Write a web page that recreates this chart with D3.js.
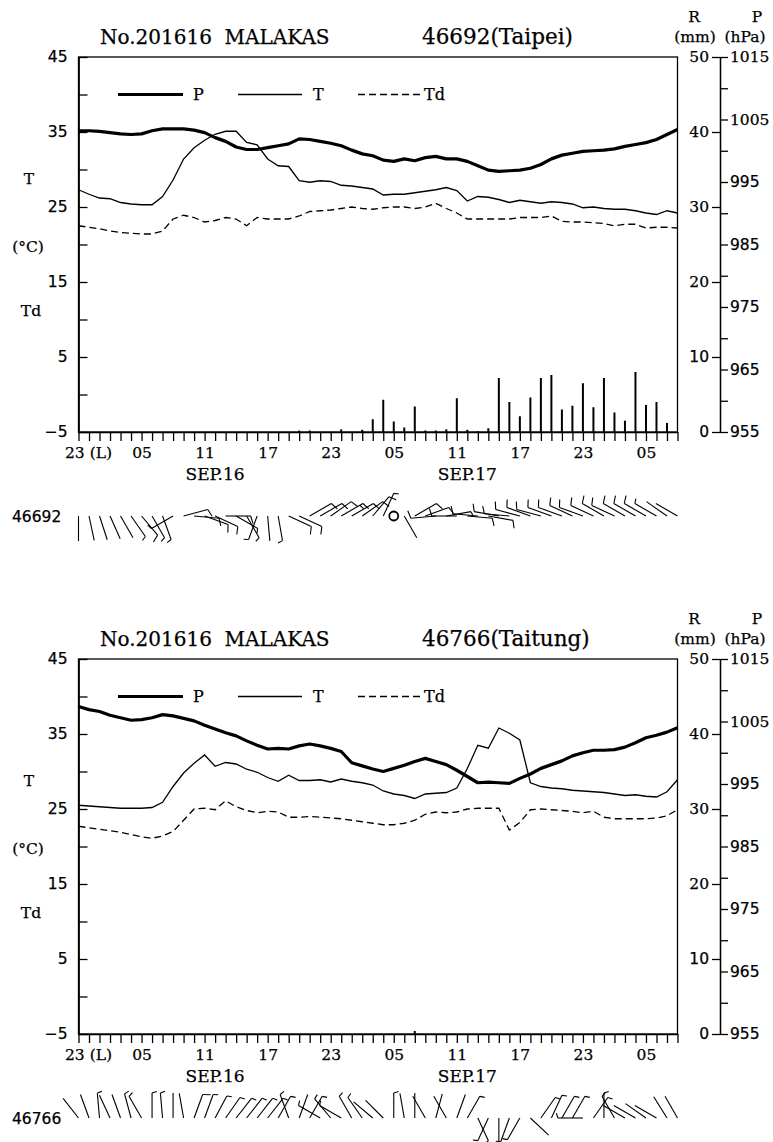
<!DOCTYPE html>
<html>
<head>
<meta charset="utf-8">
<script src="https://cdn.jsdelivr.net/npm/d3@7"></script>
<style>
  body { margin: 0; background: #fff; }
  svg text { fill: #000; stroke: #000; stroke-width: 0.25px; }
</style>
</head>
<body>
<script>
// hourly series, 23 LST Sep 15 -> 08 LST Sep 18 (58 hours)
var hourLabels = ["23","05","11","17","23","05","11","17","23","05"];
var dayLabels = ["SEP.16", "SEP.17"];
var dayNoon = [13, 37];
var tLabels = [45, 35, 25, 15, 5, -5];
var rLabels = [0, 10, 20, 30, 40, 50];
var pLabels = [1015, 1005, 995, 985, 975, 965, 955];

var taipeiP = [1003.2,1003.2,1003.1,1002.9,1002.7,1002.6,1002.7,1003.2,1003.5,1003.5,
  1003.5,1003.3,1002.9,1002.1,1001.5,1000.6,1000.2,1000.2,1000.5,1000.8,
  1001.1,1001.9,1001.8,1001.5,1001.2,1000.8,1000.1,999.5,999.2,998.5,
  998.3,998.7,998.4,998.9,999.1,998.7,998.7,998.3,997.6,996.9,
  996.7,996.8,996.9,997.2,997.8,998.7,999.3,999.6,999.9,1000.0,
  1000.1,1000.3,1000.7,1001.0,1001.3,1001.8,1002.6,1003.4];
var taipeiT = [27.3,26.7,26.2,26.1,25.6,25.4,25.3,25.3,26.4,28.6,
  31.4,32.9,33.9,34.7,35.1,35.1,33.6,33.3,31.4,30.5,
  30.4,28.5,28.3,28.5,28.4,27.9,27.8,27.6,27.4,26.6,
  26.7,26.7,26.9,27.1,27.3,27.6,27.2,25.8,26.4,26.3,
  26.0,25.6,25.9,25.7,25.5,25.7,25.6,25.4,24.9,25.0,
  24.8,24.7,24.7,24.5,24.2,24.0,24.5,24.2];
var taipeiTd = [22.5,22.3,22.1,21.8,21.6,21.5,21.4,21.4,21.8,23.4,
  23.9,23.6,23.0,23.2,23.6,23.4,22.5,23.6,23.4,23.4,
  23.4,23.8,24.4,24.5,24.6,24.8,25.0,24.8,24.7,24.9,
  25.0,25.0,24.8,25.0,25.5,24.8,24.2,23.4,23.4,23.4,
  23.4,23.4,23.6,23.6,23.6,23.8,23.1,23.0,23.0,22.9,
  22.8,22.5,22.7,22.7,22.2,22.3,22.3,22.2];
var taipeiR = [0,0,0,0,0,0,0,0,0,0,
  0,0,0,0,0,0,0,0,0,0,
  0,0.2,0.2,0,0,0.35,0,0.3,1.7,4.3,
  1.4,0.6,3.4,0.2,0.2,0.35,4.5,0.3,0.1,0.5,
  7.2,4.0,2.1,4.6,7.2,7.6,3.0,3.5,6.5,3.3,
  7.2,2.6,1.5,8.0,3.6,4.0,1.2,0];
// wind direction (deg, -1 = calm) and barb count (1 short, 2 full, 3 full+short)
var taipeiWd = [180,168,162,156,150,145,140,150,160,240,
  75,95,110,115,90,120,150,200,175,170,
  115,115,60,60,55,60,60,55,40,25,
  -1,150,60,70,265,80,270,95,275,100,
  280,275,285,290,285,290,290,295,290,295,
  300,295,300,300,300,300,305,300];
var taipeiWs = [0,0,0,0,0,1,2,1,1,1,
  2,2,2,2,2,1,1,1,0,1,
  2,2,2,2,2,3,2,2,2,1,
  0,0,2,2,2,1,2,2,2,2,
  2,2,2,2,2,2,2,2,2,2,
  2,2,2,2,2,1,0,0];

var taitungP = [1007.4,1006.9,1006.6,1006.0,1005.6,1005.2,1005.3,1005.6,1006.1,1005.9,
  1005.5,1005.1,1004.4,1003.8,1003.2,1002.7,1001.9,1001.2,1000.6,1000.7,
  1000.6,1001.1,1001.4,1001.1,1000.7,1000.2,998.4,997.9,997.4,997.0,
  997.5,998.0,998.6,999.1,998.6,998.1,997.2,996.2,995.2,995.3,
  995.2,995.1,995.9,996.6,997.5,998.1,998.7,999.5,1000.0,1000.4,
  1000.4,1000.5,1000.9,1001.6,1002.4,1002.8,1003.3,1004.0];
var taitungT = [25.5,25.4,25.3,25.2,25.1,25.1,25.1,25.2,25.9,28.0,
  29.8,31.1,32.2,30.7,31.2,31.0,30.3,29.9,29.2,28.7,
  29.5,28.8,28.8,28.9,28.6,29.0,28.7,28.5,28.2,27.4,
  27.0,26.8,26.4,27.0,27.1,27.2,27.8,30.4,33.5,33.1,
  35.8,35.1,34.2,28.5,28.0,27.8,27.7,27.5,27.4,27.3,
  27.2,27.0,26.8,26.9,26.7,26.6,27.3,28.9];
var taitungTd = [22.7,22.5,22.3,22.1,21.9,21.6,21.3,21.1,21.4,22.0,
  23.5,25.0,25.1,24.9,26.1,25.3,24.8,24.5,24.7,24.6,
  23.9,23.9,24.0,23.9,23.8,23.7,23.5,23.3,23.1,22.9,
  22.9,23.1,23.5,24.3,24.6,24.5,24.6,25.0,25.1,25.1,
  25.1,22.2,23.2,24.9,25.0,24.9,24.8,24.7,24.5,24.7,
  23.9,23.7,23.7,23.7,23.7,23.8,24.1,24.9];
var taitungR = [0,0,0,0,0,0,0,0,0,0,
  0,0,0,0,0,0,0,0,0,0,
  0,0,0,0,0,0,0,0,0,0,
  0,0,0.4,0,0,0,0,0,0,0,
  0,0,0,0,0,0,0,0,0,0,
  0,0,0,0,0,0,0,0];
var taitungWd = [322,340,355,335,340,345,330,0,355,0,
  350,20,20,28,35,38,38,38,38,30,
  340,20,30,300,320,300,330,325,310,315,
  0,350,0,330,15,330,20,30,155,205,
  180,200,210,133,35,25,30,30,270,35,
  0,330,300,300,305,300,328,330];
var taitungWs = [0,0,1,0,0,1,1,1,1,0,
  0,2,1,1,1,1,1,1,1,1,
  1,0,1,1,1,1,1,1,0,0,
  1,0,0,0,0,0,0,1,1,1,
  0,1,1,0,1,1,1,1,1,1,
  1,1,0,0,0,0,0,0];

var serif = "'DejaVu Serif', serif",
    sans = "'DejaVu Sans', sans-serif";

var svg = d3.select("body").append("svg")
  .attr("width", 773)
  .attr("height", 1142);

var x = d3.scaleLinear().domain([0, 57]).range([78.5, 677.5]),
    yT = d3.scaleLinear().domain([-5, 45]).range([432, 57]),
    yR = d3.scaleLinear().domain([0, 50]).range([432, 57]),
    yP = d3.scaleLinear().domain([955, 1015]).range([432, 57]);

function drawBarb(g, cx, cy, dir, spd) {
  if (dir < 0) {
    g.append("circle").attr("cx", cx).attr("cy", cy).attr("r", 4.5)
      .attr("fill", "none").attr("stroke", "#000").attr("stroke-width", 1.8);
    return;
  }
  var L = 25, a = dir * Math.PI / 180,
      ux = Math.sin(a), uy = -Math.cos(a),
      fa = (dir + 72) * Math.PI / 180,
      fx = Math.sin(fa), fy = -Math.cos(fa);
  g.append("line")
    .attr("x1", cx).attr("y1", cy)
    .attr("x2", cx + L * ux).attr("y2", cy + L * uy);
  var n = spd, k = 0;
  while (n > 0) {
    var len = n >= 2 ? 8 : 5,
        px = cx + (L - k * 3.5) * ux, py = cy + (L - k * 3.5) * uy;
    g.append("line")
      .attr("x1", px).attr("y1", py)
      .attr("x2", px + len * fx).attr("y2", py + len * fy);
    n -= n >= 2 ? 2 : 1;
    k++;
  }
}

function drawPanel(top, title, station, p, t, td, r, wd, ws) {
  var g = svg.append("g").attr("transform", "translate(0," + top + ")");

  // titles
  g.append("text").attr("x", 100).attr("y", 44)
    .style("white-space", "pre")
    .attr("font-family", serif).attr("font-size", 20)
    .text("No.201616  MALAKAS");
  g.append("text").attr("x", 422).attr("y", 44)
    .attr("font-family", serif).attr("font-size", 21.5)
    .text(title);

  // headers of the right axes
  [["R", 694, 22], ["P", 757, 22], ["(mm)", 695, 42], ["(hPa)", 745, 42]].forEach(function(d){
    g.append("text").attr("x", d[1]).attr("y", d[2]).attr("text-anchor", "middle")
      .attr("font-family", serif).attr("font-size", 15.5).text(d[0]);
  });

  // left labels
  [["T", 29, 184], ["(\u00B0C)", 28, 252], ["Td", 31, 316]].forEach(function(d){
    g.append("text").attr("x", d[1]).attr("y", d[2]).attr("text-anchor", "middle")
      .attr("font-family", serif).attr("font-size", 15.5).text(d[0]);
  });

  // frame
  g.append("rect")
    .attr("x", x(0)).attr("y", yT(45))
    .attr("width", x(57) - x(0)).attr("height", yT(-5) - yT(45))
    .attr("fill", "none").attr("stroke", "#000").attr("stroke-width", 1.3);

  // left axis: inner ticks every 5, labels every 10
  g.append("g").attr("transform", "translate(" + x(0) + ",0)")
    .call(d3.axisLeft(yT).tickValues(d3.range(-5, 46, 5)).tickSize(-9).tickSizeOuter(0).tickFormat(""));
  var ll = g.append("g").attr("transform", "translate(" + x(0) + ",0)")
    .call(d3.axisLeft(yT).tickValues(tLabels).tickSize(0).tickPadding(11));
  ll.selectAll("text").attr("font-family", sans).attr("font-size", 15.5);

  // time axis
  var xa = g.append("g").attr("transform", "translate(0," + yT(-5) + ")")
    .call(d3.axisBottom(x).tickValues(d3.range(0, 58)).tickSize(9).tickSizeOuter(0).tickPadding(6)
      .tickFormat(function(d){ return d % 6 === 0 ? hourLabels[d / 6] : ""; }));
  xa.selectAll("text").attr("font-family", serif).attr("font-size", 15.5);
  xa.selectAll(".tick").filter(function(d){ return d === 0; }).select("text")
    .attr("text-anchor", "start").attr("dx", -14).style("white-space", "pre").text("23 (L)");

  dayLabels.forEach(function(d, i){
    g.append("text").attr("x", x(dayNoon[i])).attr("y", 480).attr("text-anchor", "middle")
      .attr("font-family", serif).attr("font-size", 17).text(d);
  });

  // right axes: rain (left ticks) and pressure (right ticks)
  var ra = g.append("g").attr("transform", "translate(720,0)")
    .call(d3.axisLeft(yR).tickValues(rLabels).tickSize(8).tickSizeOuter(0).tickPadding(3));
  ra.selectAll("text").attr("font-size", 15.5)
    .attr("font-family", function(d){ return d >= 20 ? serif : sans; });
  var pa = g.append("g").attr("transform", "translate(720,0)")
    .call(d3.axisRight(yP).tickValues(d3.range(955, 1016, 5)).tickSize(8).tickSizeOuter(0).tickPadding(2)
      .tickFormat(function(d){ return pLabels.indexOf(d) >= 0 ? d : ""; }));
  pa.selectAll("text").attr("font-size", 15.5)
    .attr("font-family", function(d){ return d >= 1005 ? serif : sans; });

  g.selectAll(".domain, .tick line").attr("stroke", "#000").attr("stroke-width", 1.3);

  // rain bars
  g.append("g").selectAll("line")
    .data(r.map(function(v, i){ return {i: i, v: v}; }).filter(function(d){ return d.v > 0; }))
    .enter().append("line")
    .attr("x1", function(d){ return x(d.i); }).attr("x2", function(d){ return x(d.i); })
    .attr("y1", yR(0)).attr("y2", function(d){ return yR(d.v); })
    .attr("stroke", "#000").attr("stroke-width", 2);

  // lines
  var lineT = d3.line().x(function(d, i){ return x(i); }).y(function(d){ return yT(d); });
  var lineP = d3.line().x(function(d, i){ return x(i); }).y(function(d){ return yP(d); });
  g.append("path").datum(td).attr("d", lineT).attr("fill", "none")
    .attr("stroke", "#000").attr("stroke-width", 1.3).attr("stroke-dasharray", "7,4");
  g.append("path").datum(t).attr("d", lineT).attr("fill", "none")
    .attr("stroke", "#000").attr("stroke-width", 1.3);
  g.append("path").datum(p).attr("d", lineP).attr("fill", "none")
    .attr("stroke", "#000").attr("stroke-width", 3.2).attr("stroke-linejoin", "round");

  // legend
  var ly = yT(40);
  g.append("line").attr("x1", 118).attr("x2", 183).attr("y1", ly).attr("y2", ly)
    .attr("stroke", "#000").attr("stroke-width", 3.2);
  g.append("line").attr("x1", 238).attr("x2", 302).attr("y1", ly).attr("y2", ly)
    .attr("stroke", "#000").attr("stroke-width", 1.3);
  g.append("line").attr("x1", 358).attr("x2", 420).attr("y1", ly).attr("y2", ly)
    .attr("stroke", "#000").attr("stroke-width", 1.3).attr("stroke-dasharray", "7,4");
  [["P", 193], ["T", 313], ["Td", 424]].forEach(function(d){
    g.append("text").attr("x", d[1]).attr("y", ly + 5.5)
      .attr("font-family", serif).attr("font-size", 16).text(d[0]);
  });

  // wind barbs
  var wy = 516;
  g.append("text").attr("x", 12).attr("y", wy + 5.5)
    .attr("font-family", sans).attr("font-size", 15.5).text(station);
  var wg = g.append("g").attr("stroke", "#000").attr("stroke-width", 1.1);
  wd.forEach(function(d, i){ drawBarb(wg, x(i), wy, d, ws[i]); });
}

drawPanel(0, "46692(Taipei)", "46692", taipeiP, taipeiT, taipeiTd, taipeiR, taipeiWd, taipeiWs);
drawPanel(602, "46766(Taitung)", "46766", taitungP, taitungT, taitungTd, taitungR, taitungWd, taitungWs);
</script>
</body>
</html>
